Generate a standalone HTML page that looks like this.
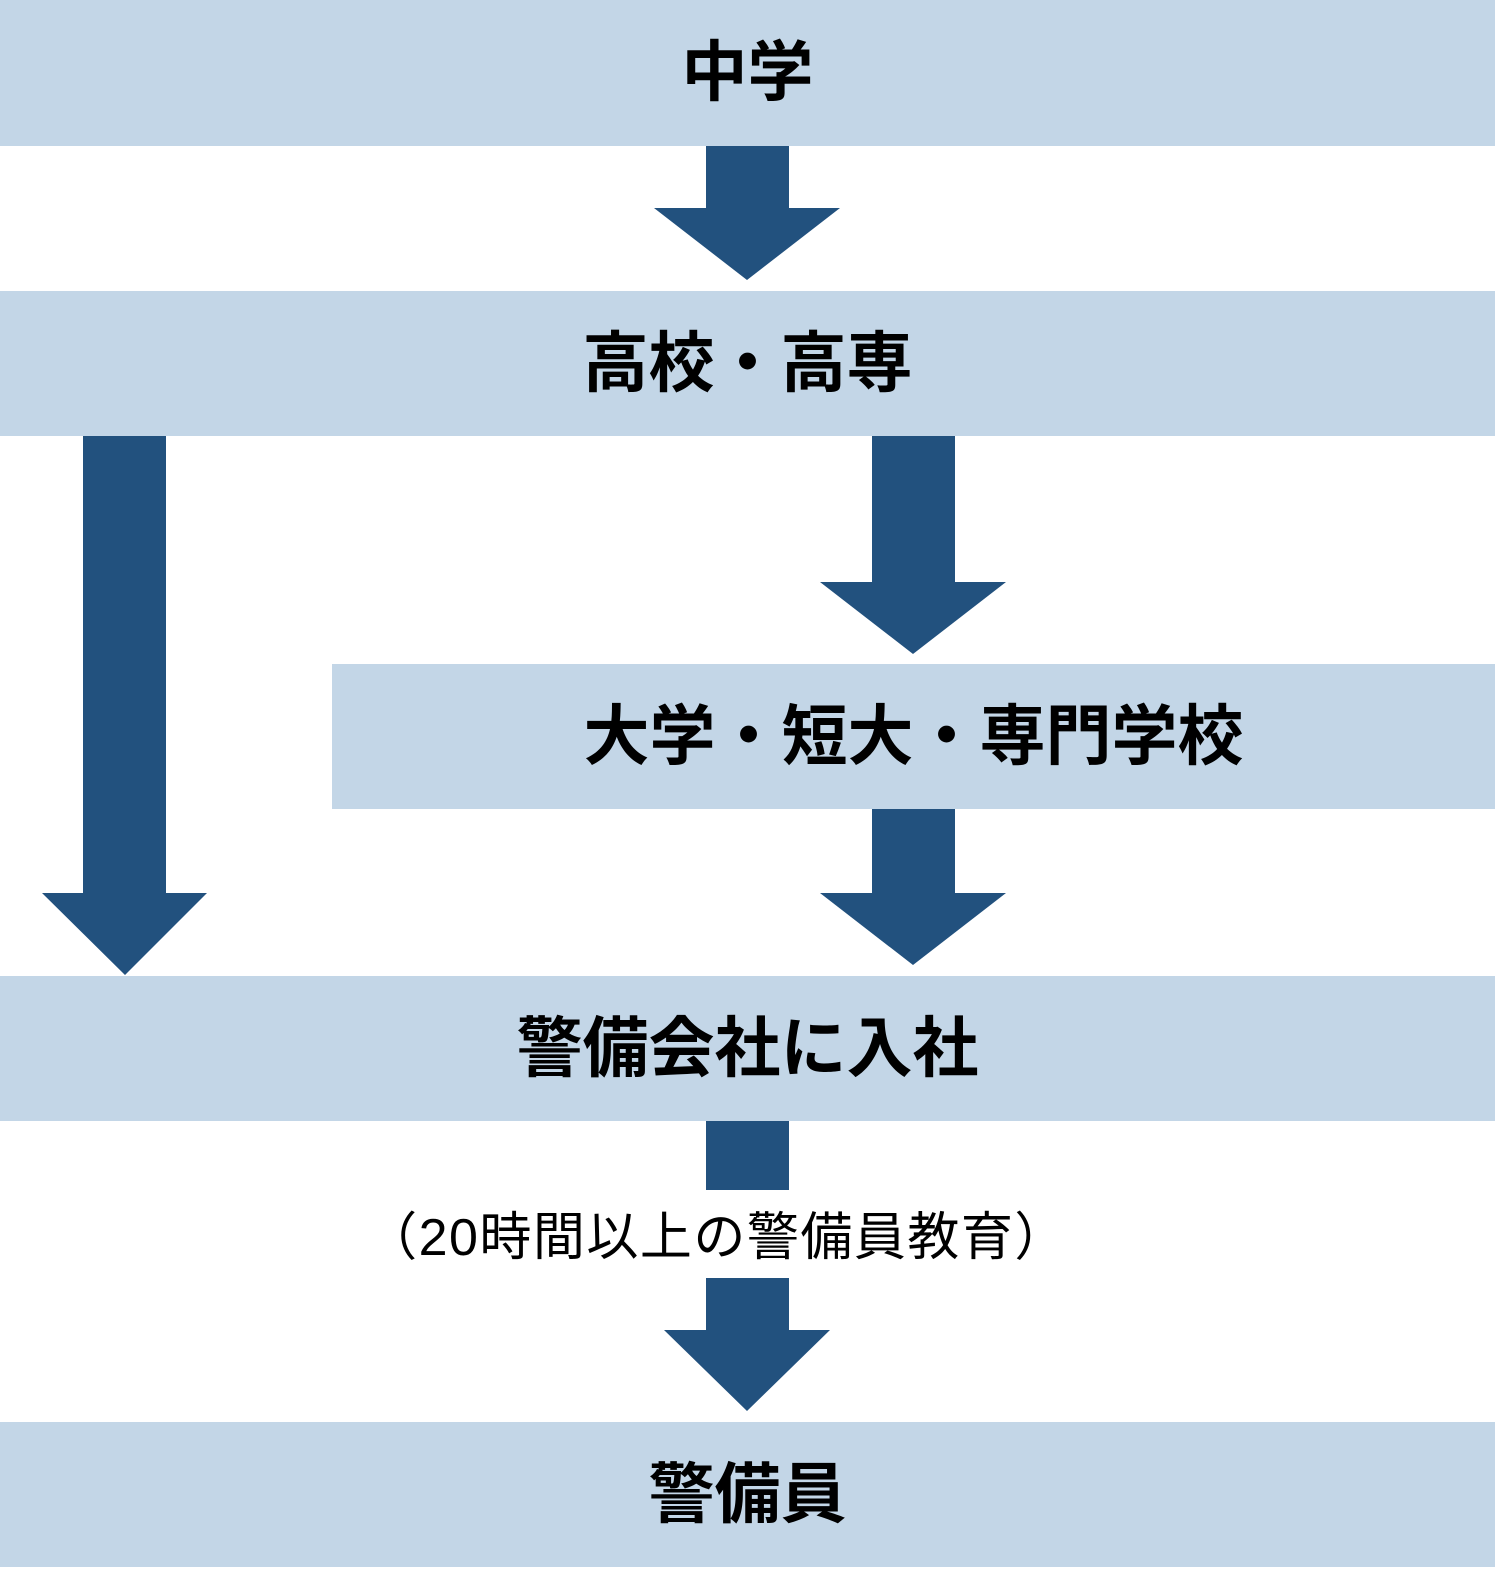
<!DOCTYPE html>
<html><head><meta charset="utf-8"><style>
html,body{margin:0;padding:0;background:#fff;}
body{width:1501px;height:1574px;position:relative;overflow:hidden;font-family:"Liberation Sans","Noto Sans CJK JP",sans-serif;}
.b{position:absolute;background:#c3d6e7;display:flex;align-items:center;justify-content:center;font-weight:bold;font-size:66px;color:#000;box-sizing:border-box;padding-bottom:12px;}
.t{position:absolute;left:0;width:1501px;text-align:center;}
svg{position:absolute;left:0;top:0;}
</style></head><body>
<div class="b" style="left:0;top:0;width:1495px;height:146px;">中学</div>
<div class="b" style="left:0;top:291px;width:1495px;height:145px;">高校・高専</div>
<div class="b" style="left:332px;top:664px;width:1163px;height:145px;">大学・短大・専門学校</div>
<div class="b" style="left:0;top:976px;width:1495px;height:145px;">警備会社に入社</div>
<div class="b" style="left:0;top:1422px;width:1495px;height:145px;">警備員</div>
<svg width="1501" height="1574" fill="#22517e">
<polygon points="706,146 789,146 789,208 840,208 747,280 654,208 706,208"/>
<polygon points="83,436 166,436 166,893 207,893 125,975 42,893 83,893"/>
<polygon points="872,436 955,436 955,582 1006,582 913,654 820,582 872,582"/>
<polygon points="872,809 955,809 955,893 1006,893 913,965 820,893 872,893"/>
<rect x="706" y="1121" width="83" height="69"/>
<polygon points="706,1278 789,1278 789,1330 830,1330 747,1411 664,1330 706,1330"/>
</svg>
<div class="t" style="top:1206px;font-size:52px;line-height:64px;left:-34px;letter-spacing:1.5px;">（20時間以上の警備員教育）</div>
</body></html>
